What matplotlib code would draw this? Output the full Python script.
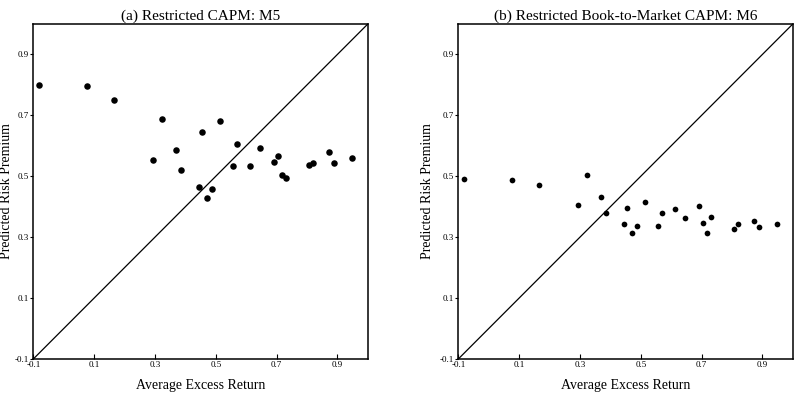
import numpy as np
import matplotlib
matplotlib.use('Agg')
import matplotlib.pyplot as plt

plt.rcParams['font.family'] = ['Liberation Serif', 'DejaVu Serif']

# Average excess return of the 25 portfolios (shared by both panels)
avg_excess = [-0.080, 0.078, 0.167, 0.293, 0.324, 0.370, 0.386, 0.445, 0.456, 0.472,
              0.487, 0.515, 0.557, 0.571, 0.614, 0.647, 0.690, 0.705, 0.719, 0.732,
              0.806, 0.821, 0.871, 0.888, 0.949]

# Predicted risk premium, restricted CAPM (M5)
pred_m5 = [0.801, 0.795, 0.750, 0.552, 0.688, 0.585, 0.519, 0.466, 0.647, 0.428,
           0.458, 0.680, 0.535, 0.606, 0.535, 0.592, 0.547, 0.565, 0.504, 0.495,
           0.536, 0.544, 0.580, 0.544, 0.560]

# Predicted risk premium, restricted book-to-market CAPM (M6)
pred_m6 = [0.491, 0.487, 0.472, 0.407, 0.505, 0.432, 0.381, 0.343, 0.396, 0.313,
           0.337, 0.416, 0.337, 0.381, 0.393, 0.363, 0.402, 0.346, 0.315, 0.365,
           0.328, 0.342, 0.354, 0.334, 0.344]

titles = ['(a) Restricted CAPM: M5', '(b) Restricted Book-to-Market CAPM: M6']
ticks = [-0.1, 0.1, 0.3, 0.5, 0.7, 0.9]
tick_labels = ['-0.1', '0.1', '0.3', '0.5', '0.7', '0.9']

W, H = 798, 394
fig = plt.figure(figsize=(W / 100, H / 100), dpi=100)

panels = [
    (33.3, pred_m5, 22, -26.5),
    (458.3, pred_m6, 17, -31),
]
for (left, preds, size, lab_off), title in zip(panels, titles):
    ax = fig.add_axes([left / W, 35 / H, 334.5 / W, 335 / H])
    ax.plot([-0.1, 1.0], [-0.1, 1.0], color='black', lw=0.9)
    ax.scatter(avg_excess, preds, s=size, color='black', zorder=3, linewidths=0)
    ax.set_xlim(-0.1, 1.0)
    ax.set_ylim(-0.1, 1.0)
    ax.set_xticks(ticks)
    ax.set_xticklabels(tick_labels)
    ax.set_yticks(ticks)
    ax.set_yticklabels(tick_labels)
    ax.tick_params(axis='x', direction='in', length=3.5, width=0.8, pad=1.5, labelsize=6.5)
    ax.tick_params(axis='y', direction='out', length=2.5, width=0.8, pad=1, labelsize=6.5)
    for sp in ax.spines.values():
        sp.set_linewidth(1.1)
    ax.set_title(title, fontsize=11, pad=3)
    ax.set_xlabel('Average Excess Return', fontsize=10)
    ax.xaxis.set_label_coords(0.5, -27 / 335)
    ax.xaxis.label.set_va('center')
    ax.set_ylabel('Predicted Risk Premium', fontsize=10)
    ax.yaxis.set_label_coords(lab_off / 334.5, 0.5)
    ax.yaxis.label.set_va('center')

fig.savefig('out.png', dpi=100)
